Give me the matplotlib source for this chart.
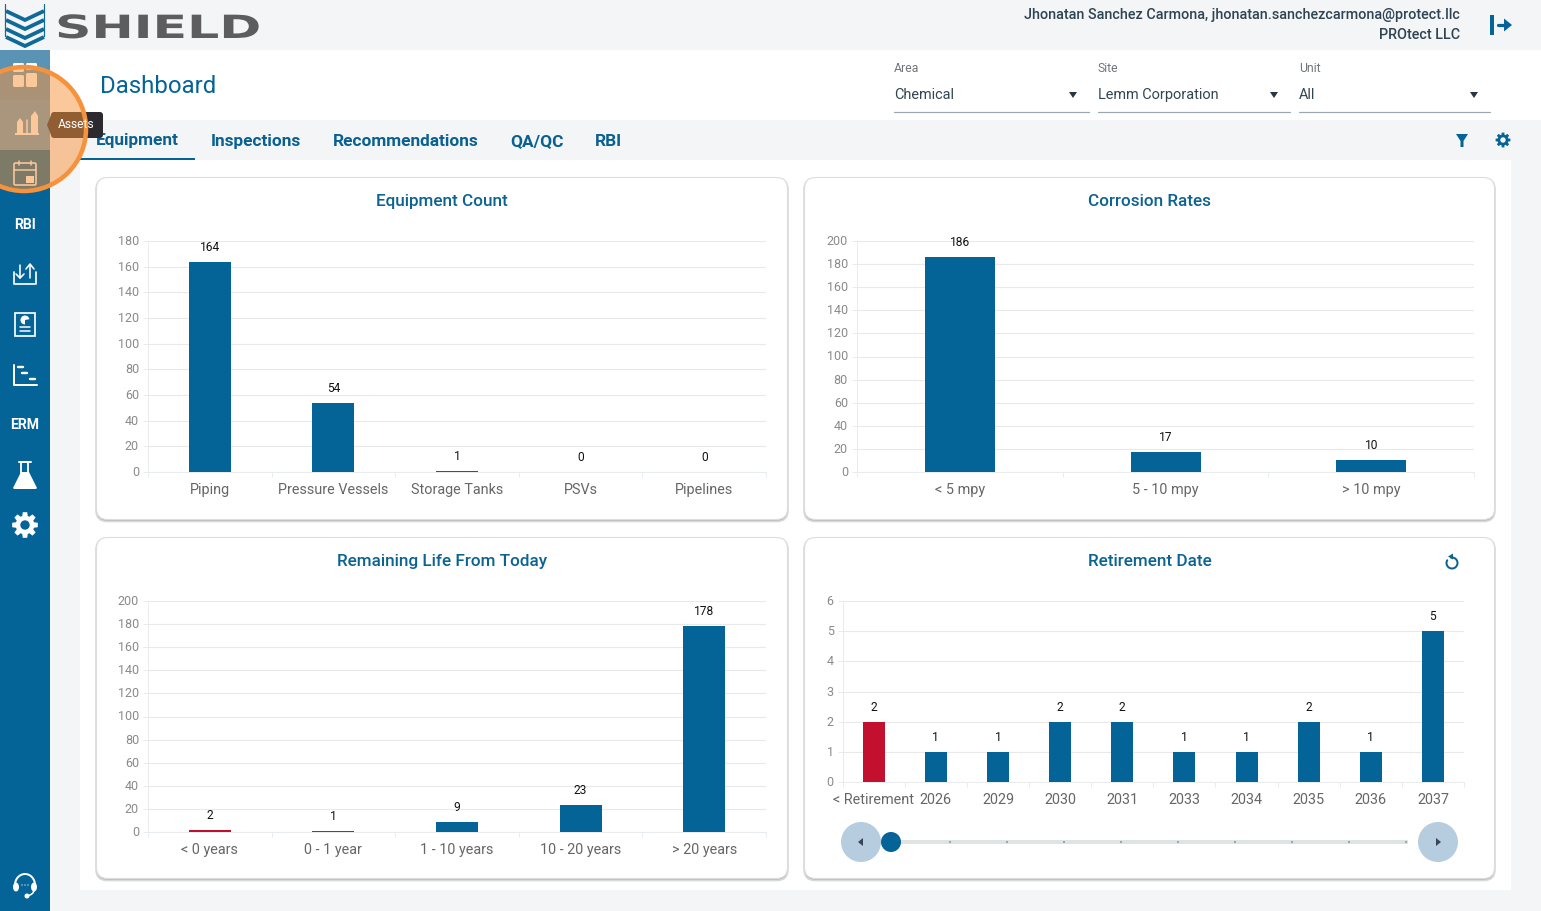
import numpy as np
import matplotlib
matplotlib.use("Agg")
import matplotlib.pyplot as plt
from matplotlib.patches import Rectangle, FancyBboxPatch, Circle, Ellipse, Polygon, Arc, Wedge
from matplotlib.transforms import Affine2D, ScaledTranslation
import matplotlib.patheffects as pe

plt.rcParams['font.family'] = ['Roboto', 'DejaVu Sans']

# ---- data ----
equip_cats = ["Piping", "Pressure Vessels", "Storage Tanks", "PSVs", "Pipelines"]
equip_vals = [164, 54, 1, 0, 0]
corr_cats = ["< 5 mpy", "5 - 10 mpy", "> 10 mpy"]
corr_vals = [186, 17, 10]
life_cats = ["< 0 years", "0 - 1 year", "1 - 10 years", "10 - 20 years", "> 20 years"]
life_vals = [2, 1, 9, 23, 178]
ret_cats = ["< Retirement", "2026", "2029", "2030", "2031", "2033", "2034", "2035", "2036", "2037"]
ret_vals = [2, 1, 1, 2, 2, 1, 1, 2, 1, 5]
tabs = ["Equipment", "Inspections", "Recommendations", "QA/QC", "RBI"]

W, H = 1541, 911
BLUE = "#046497"
RED = "#c4102f"
TITLE = "#0b6391"
px = 72 / 100  # points per pixel

fig = plt.figure(figsize=(W / 100, H / 100), dpi=100, facecolor="#f4f5f6")
bg = fig.add_axes([0, 0, 1, 1], zorder=0)
bg.set_xlim(0, W); bg.set_ylim(H, 0); bg.axis("off")
top = fig.add_axes([0, 0, 1, 1], zorder=10)
top.set_xlim(0, W); top.set_ylim(H, 0); top.axis("off"); top.patch.set_alpha(0)


def rect(ax, x0, y0, x1, y1, c, **k):
    ax.add_patch(Rectangle((x0, y0), x1 - x0, y1 - y0, fc=c, ec="none", **k))


def line(ax, xs, ys, c="white", lw=2, **k):
    k.setdefault("solid_capstyle", "round")
    k.setdefault("solid_joinstyle", "round")
    ax.plot(xs, ys, color=c, lw=lw * px, **k)


def gear(ax, cx, cy, r, c="white", hole="#046497"):
    pts = []
    for i in range(8):
        a = i * np.pi / 4
        for da, rr in ((-0.30, 0.72), (-0.17, 1.0), (0.17, 1.0), (0.30, 0.72)):
            pts.append((cx + r * rr * np.cos(a + da), cy + r * rr * np.sin(a + da)))
    ax.add_patch(Polygon(pts, closed=True, fc=c, ec="none"))
    ax.add_patch(Circle((cx, cy), r * 0.36, fc=hole, ec="none"))


class StretchX(pe.AbstractPathEffect):
    def __init__(self, sx, x0):
        super().__init__()
        self.sx, self.x0 = sx, x0

    def draw_path(self, renderer, gc, tpath, affine, rgbFace=None):
        a = affine + Affine2D().translate(-self.x0, 0).scale(self.sx, 1).translate(self.x0, 0)
        renderer.draw_path(gc, tpath, a, rgbFace)


# ---- chrome ----
rect(bg, 50, 50, W, 120, "white")
rect(bg, 80, 160, 1511, 890, "white")
rect(bg, 0, 50, 50, H, BLUE)
rect(bg, 0, 50, 50, 100, "#5b93b5")
rect(bg, 0, 100, 50, 150, "#5c9cc0")

# logo
for tip in (20, 29, 38, 46):
    line(bg, [6, 25, 44], [tip - 9, tip, tip - 9], "#0f6a98", 3.8,
         solid_capstyle="butt", solid_joinstyle="miter")
line(bg, [5.5, 5.5], [4, 36], "#0f6a98", 1.2)
line(bg, [44.5, 44.5], [4, 36], "#0f6a98", 1.2)
bg.text(55, 38, "SHIELD", fontsize=32 * px, family="DejaVu Sans", weight="bold", color="#5d5d5f", va="baseline",
        path_effects=[StretchX(1.58, 55)])

bg.text(1460, 19, "Jhonatan Sanchez Carmona, jhonatan.sanchezcarmona@protect.llc", ha="right", va="baseline",
        fontsize=14.4 * px, weight="medium", color="#2f4452")
bg.text(1460, 39, "PROtect LLC", ha="right", va="baseline", fontsize=14.4 * px, weight="medium", color="#2f4452")
# exit icon
rect(bg, 1490, 15, 1494, 35, BLUE)
line(bg, [1498, 1506], [25, 25], BLUE, 3.2)
bg.add_patch(Polygon([(1504, 18.5), (1512, 25), (1504, 31.5)], fc=BLUE, ec="none"))

bg.text(100, 93, "Dashboard", fontsize=24 * px, color=BLUE, va="baseline")

# selects
for lab, val, x0, x1, ax_ in (("Area", "Chemical", 894, 1090, 1073),
                              ("Site", "Lemm Corporation", 1098, 1291, 1274),
                              ("Unit", "All", 1299, 1491, 1474)):
    bg.text(x0, 72, lab, fontsize=12.3 * px, color="#70777c", va="baseline")
    bg.text(x0, 99, val, fontsize=14.5 * px, color="#33464f", va="baseline")
    bg.add_patch(Polygon([(ax_ - 4, 92), (ax_ + 4, 92), (ax_, 98)], fc="#263743", ec="none"))
    line(bg, [x0, x1 - 0.5], [112, 112], "#9aa7ae", 1.2)

# tabs
for t, x, y in zip(tabs, (96, 211, 333, 510, 595), (145, 146, 146, 146, 146)):
    bg.text(x, y, t, fontsize=17.3 * px, weight="bold", color="#0a6090", va="baseline")
rect(bg, 80, 158, 195, 160, BLUE)
bg.add_patch(Polygon([(1456, 134), (1468, 134), (1463.5, 141), (1463.5, 147), (1460.5, 147), (1460.5, 141)],
                     fc=BLUE, ec="none"))
gear(bg, 1503, 140, 7.5, BLUE, "#f4f5f6")

# sidebar icons
# dashboard
for (x0, y0, x1, y1) in ((13, 63, 24, 72), (26, 63, 37, 70), (13, 75, 24, 87), (26, 73, 37, 87)):
    bg.add_patch(FancyBboxPatch((x0, y0), x1 - x0, y1 - y0, boxstyle="round,pad=0,rounding_size=1.5", fc="white", ec="none"))
# assets
rect(bg, 15, 133, 39, 135, "white")
bg.add_patch(Polygon([(17, 133), (17, 122), (20, 118), (23, 122), (23, 133)], fc="white", ec="none"))
bg.add_patch(Polygon([(31, 133), (31, 116), (35, 111), (38, 116), (38, 133)], fc="white", ec="none"))
line(bg, [27, 27], [120, 133], "white", 1.5)
# calendar
bg.add_patch(FancyBboxPatch((14, 163), 22, 22, boxstyle="round,pad=0,rounding_size=1.5", fc="none", ec="white", lw=1.6 * px))
line(bg, [14, 36], [170, 170], "white", 1.5)
line(bg, [19, 19], [161, 165], "white", 1.5)
line(bg, [31, 31], [161, 165], "white", 1.5)
rect(bg, 26, 176, 34, 183, "white")
# RBI / ERM
bg.text(25, 229, "RBI", color="white", fontsize=14 * px, weight="bold", ha="center", va="baseline")
bg.text(25, 429, "ERM", color="white", fontsize=14 * px, weight="bold", ha="center", va="baseline")
# upload
line(bg, [14, 14, 36, 36], [272, 284, 284, 272], "white", 1.7)
line(bg, [20, 20], [265, 278], "white", 1.6)
line(bg, [16, 20, 24], [274, 278, 274], "white", 1.6)
line(bg, [30, 30], [265, 278], "white", 1.6)
line(bg, [26, 30, 34], [269, 264, 269], "white", 1.6)
# report
bg.add_patch(Rectangle((15, 313), 20, 23, fc="none", ec="white", lw=1.7 * px))
bg.add_patch(Wedge((25, 320), 4.5, 90, 350, fc="white", ec="none"))
line(bg, [20, 30], [327, 327], "white", 1.5)
line(bg, [20, 30], [331, 331], "white", 1.5)
# chart
line(bg, [14, 14, 37], [365, 385, 385], "white", 2)
line(bg, [18, 23], [367, 367], "white", 2.4)
line(bg, [22, 27], [373, 373], "white", 2.4)
line(bg, [30, 35], [379, 379], "white", 2.4)
# flask
line(bg, [19, 31], [462, 462], "white", 2)
line(bg, [21.5, 21.5], [462, 473], "white", 1.8)
line(bg, [28.5, 28.5], [462, 473], "white", 1.8)
bg.add_patch(Polygon([(21, 472), (29, 472), (37, 488), (36, 489), (14, 489), (13, 488)], fc="white", ec="none"))
gear(bg, 25, 525, 13, "white", BLUE)
# headset
bg.add_patch(Arc((25, 885), 20, 22, theta1=180, theta2=360, ec="white", lw=2 * px))
bg.add_patch(Ellipse((16, 887), 6, 9, fc="white", ec="none"))
bg.add_patch(Ellipse((34, 887), 6, 9, fc="white", ec="none"))
bg.add_patch(Arc((25, 890), 18, 12, theta1=0, theta2=90, ec="white", lw=1.6 * px))
bg.add_patch(Circle((27, 896), 2.5, fc="white", ec="none"))
for x in (22, 25, 28):
    bg.add_patch(Circle((x, 885), 0.7, fc="white", ec="none", alpha=0.8))

# ---- cards ----
for (x0, y0, x1, y1) in ((96, 177, 788, 520), (804, 177, 1495, 520), (96, 537, 788, 879), (804, 537, 1495, 879)):
    bg.add_patch(FancyBboxPatch((x0, y0 + 1.5), x1 - x0, y1 - y0, boxstyle="round,pad=0,rounding_size=11",
                                fc="#b4b6b8", ec="#d8d9da", lw=1.2))
    bg.add_patch(FancyBboxPatch((x0 + 0.5, y0 + 0.5), x1 - x0 - 1, y1 - y0 - 1, boxstyle="round,pad=0,rounding_size=11",
                                fc="white", ec="#dcdddd", lw=0.8))


def chart(box, cats, vals, ymax, step, title, tx, tcolors=None, ty=None):
    x0, ytop, x1, y0 = box
    ax = fig.add_axes([x0 / W, 1 - y0 / H, (x1 - x0) / W, (y0 - ytop) / H], zorder=5)
    ax.patch.set_alpha(0)
    x = np.arange(len(cats))
    bw = (22 if len(cats) == 10 else (70 if len(cats) == 3 else 42)) / ((x1 - x0) / len(cats))
    cols = tcolors or [BLUE] * len(cats)
    ax.bar(x, vals, width=bw, color=cols, zorder=3)
    ax.set_xlim(-0.5, len(cats) - 0.5)
    ax.set_ylim(0, ymax)
    ax.set_yticks(np.arange(0, ymax + 1, step))
    ax.set_xticks(x)
    ax.set_xticklabels(cats)
    ax.set_xticks(np.arange(-0.5, len(cats)), minor=True)
    ax.grid(axis="y", color="#e9e9e9", lw=0.8, zorder=0)
    ax.tick_params(axis="x", which="major", length=0, labelsize=14.4 * px, labelcolor="#666666", pad=22 * px)
    for lb in ax.get_xticklabels():
        lb.set_va("baseline")
    ax.tick_params(axis="x", which="minor", length=5 * px, width=0.7, color="#e9ecee")
    ax.tick_params(axis="y", length=5 * px, width=0.7, color="#e9ecee", labelsize=12.5 * px, labelcolor="#8a8a8a", pad=4 * px)
    up = ScaledTranslation(0, 1 / 100, fig.dpi_scale_trans)
    for tk in ax.yaxis.get_major_ticks():
        tk.label1.set_va("center_baseline")
        tk.label1.set_transform(tk.label1.get_transform() + up)
    for s in ("top", "right"):
        ax.spines[s].set_visible(False)
    for s in ("left", "bottom"):
        ax.spines[s].set_color("#e9ecee")
        ax.spines[s].set_linewidth(0.7)
    for i, v in enumerate(vals):
        ax.annotate(str(v), (i, v), xytext=(0, 8 * px), textcoords="offset points", ha="center", va="bottom",
                    fontsize=12 * px, color="#111111", clip_on=False)
    bg.text(tx, ty, title, fontsize=17.1 * px, weight="medium", color=TITLE, ha="center", va="baseline")
    return ax


chart((148, 241, 766, 472), equip_cats, equip_vals, 180, 20, "Equipment Count", 442, ty=206)
chart((857, 241, 1474, 472), corr_cats, corr_vals, 200, 20, "Corrosion Rates", 1149.5, ty=206)
chart((148, 601, 766, 832), life_cats, life_vals, 200, 20, "Remaining Life From Today", 442,
      tcolors=[RED] + [BLUE] * 4, ty=566)
chart((842.6, 601, 1464, 782), ret_cats, ret_vals, 6, 1, "Retirement Date", 1149.5,
      tcolors=[RED] + [BLUE] * 9, ty=566)

# reset icon
t = np.radians(np.linspace(100, -210, 40))
line(bg, 1452 + 5.5 * np.cos(t), 563 - 5.5 * np.sin(t), TITLE, 2)
bg.add_patch(Polygon([(1453, 553.5), (1453, 559.5), (1448, 556.5)], fc=TITLE, ec="none"))

# slider
rect(bg, 882, 840, 1408, 844, "#dfe3e4")
for x in (950, 1007, 1064, 1121, 1178, 1235, 1292, 1349, 1406):
    bg.add_patch(Circle((x, 842), 0.9, fc="#5f8ea5", ec="none"))
bg.add_patch(Circle((861, 842), 20, fc="#b6cde0", ec="none"))
bg.add_patch(Circle((1438, 842), 20, fc="#b6cde0", ec="none"))
bg.add_patch(Circle((891, 842), 10, fc=BLUE, ec="none"))
bg.add_patch(Polygon([(863, 838), (863, 846), (858, 842)], fc="#36455a", ec="none"))
bg.add_patch(Polygon([(1436, 838), (1436, 846), (1441, 842)], fc="#36455a", ec="none"))

# ---- tooltip and highlight ----
top.add_patch(FancyBboxPatch((51, 112), 52, 26, boxstyle="round,pad=0,rounding_size=3", fc="#2c2a30", ec="none"))
top.add_patch(Polygon([(51, 115), (47, 125), (51, 135)], fc="#2c2a30", ec="none"))
top.text(76, 124, "Assets", color="white", fontsize=12 * px, ha="center", va="center")
top.add_patch(Circle((24, 129), 62, fc="#f79239", alpha=0.5, ec="none"))
top.add_patch(Circle((24, 129), 62, fc="none", ec="#f7923c", lw=4.5 * px))

fig.savefig("out.png", dpi=100, facecolor=fig.get_facecolor())
